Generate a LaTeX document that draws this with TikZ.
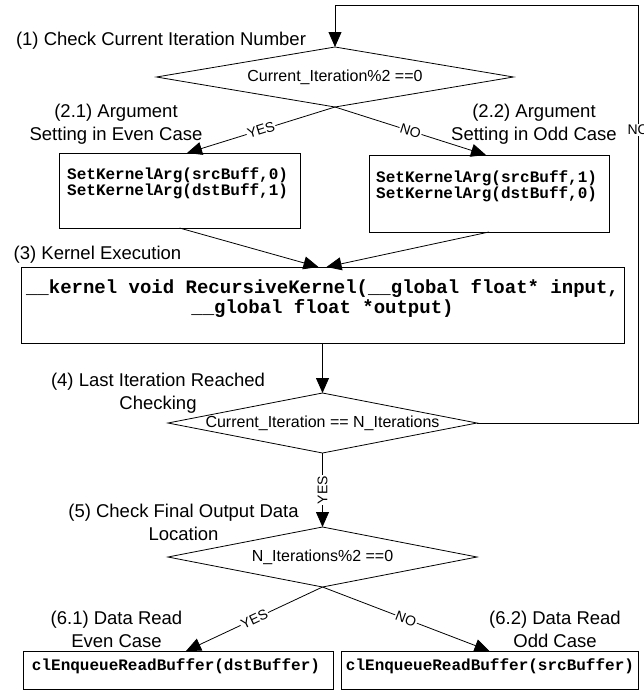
\documentclass[tikz,border=0pt]{standalone}
\usepackage{fontspec}
\setmainfont{Liberation Sans}
\newfontfamily\codefont{Liberation Mono}
\usetikzlibrary{shapes.geometric,arrows.meta,calc}
\begin{document}
\begin{tikzpicture}[x=1pt,y=-1pt,
  lbl/.style={font=\fontsize{18.5}{23}\selectfont, align=center, inner sep=0pt},
  dtext/.style={font=\fontsize{16}{18}\selectfont, inner sep=0pt},
  code/.style={font=\codefont\bfseries\fontsize{16}{16.5}\selectfont, align=left, inner sep=0pt},
  kcode/.style={font=\codefont\bfseries\fontsize{19}{20}\selectfont, align=center, inner sep=0pt},
  dia/.style={draw, diamond, line width=0.8pt, inner sep=0pt, outer sep=0pt},
  box/.style={draw, rectangle, line width=0.9pt, inner sep=0pt, outer sep=0pt},
  arr/.style={line width=0.8pt, -{Triangle[length=15pt,width=13pt]}},
  yn/.style={font=\fontsize{14}{14}\selectfont, fill=white, inner sep=1pt}]
\useasboundingbox (0,0) rectangle (643,691);

% decision and process nodes
\node[dia, minimum width=357, minimum height=60] (d1) at (335,77) {};
\node[dtext] (d1t) at (d1.center) {Current\_Iteration\%2 ==0};
\node[box, minimum width=241, minimum height=75] (b1) at (179.5,190.5) {};
\node[code, anchor=west] (b1t) at (67,183.5) {SetKernelArg(srcBuff,0)\\SetKernelArg(dstBuff,1)};
\node[box, minimum width=240, minimum height=77] (b2) at (489,193.5) {};
\node[code, anchor=west] (b2t) at (376,186.5) {SetKernelArg(srcBuff,1)\\SetKernelArg(dstBuff,0)};
\node[box, minimum width=603, minimum height=76] (b3) at (322.5,305) {};
\node[kcode] (b3t) at (322.5,298) {\_\_kernel void RecursiveKernel(\_\_global float* input,\\\_\_global float *output)};
\node[dia, minimum width=309, minimum height=60] (d4) at (322.5,423) {};
\node[dtext] (d4t) at (d4.center) {Current\_Iteration == N\_Iterations};
\node[dia, minimum width=309, minimum height=60] (d5) at (322.5,557) {};
\node[dtext] (d5t) at (d5.center) {N\_Iterations\%2 ==0};
\node[box, minimum width=310, minimum height=38] (b61) at (178,670) {};
\node[code] (b61t) at (176,666) {clEnqueueReadBuffer(dstBuffer)};
\node[box, minimum width=297, minimum height=38] (b62) at (489.5,670) {};
\node[code] (b62t) at (490,666) {clEnqueueReadBuffer(srcBuffer)};

% step labels
\node[lbl] (l1) at (161,41) {(1) Check Current Iteration Number};
\node[lbl] (l21) at (116,124) {(2.1) Argument\\Setting in Even Case};
\node[lbl] (l22) at (534,124) {(2.2) Argument\\Setting in Odd Case};
\node[lbl] (l3) at (97.5,255) {(3) Kernel Execution};
\node[lbl] (l4) at (158,393) {(4) Last Iteration Reached\\Checking};
\node[lbl] (l5) at (183.5,522.5) {(5) Check Final Output Data\\Location};
\node[lbl] (l61) at (116.5,629.5) {(6.1) Data Read\\Even Case};
\node[lbl] (l62) at (555,629.5) {(6.2) Data Read\\Odd Case};

% connectors
\coordinate (c1) at (638,423);
\coordinate (c2) at (638,5);
\coordinate (c3) at (335,5);
\draw[arr] (d4.east) -- (c1) -- node[yn, pos=0.701]{NO} (c2) -- (c3) -- (d1.north);
\draw[arr] (d1.south) -- node[yn, sloped]{YES} ([xshift=7.5pt]b1.north);
\draw[arr] (d1.south) -- node[yn, sloped]{NO} ([xshift=-3pt]b2.north);
\draw[arr] (b1.south) -- ([xshift=-4pt]b3.north);
\draw[arr] (b2.south) -- ([xshift=4pt]b3.north);
\draw[arr] (b3.south) -- (d4.north);
\draw[arr] (d4.south) -- node[yn, rotate=90]{YES} (d5.north);
\draw[arr] (d5.south) -- node[yn, sloped]{YES} ([xshift=8pt]b61.north);
\draw[arr] (d5.south) -- node[yn, sloped]{NO} (b62.north);
\end{tikzpicture}
\end{document}
